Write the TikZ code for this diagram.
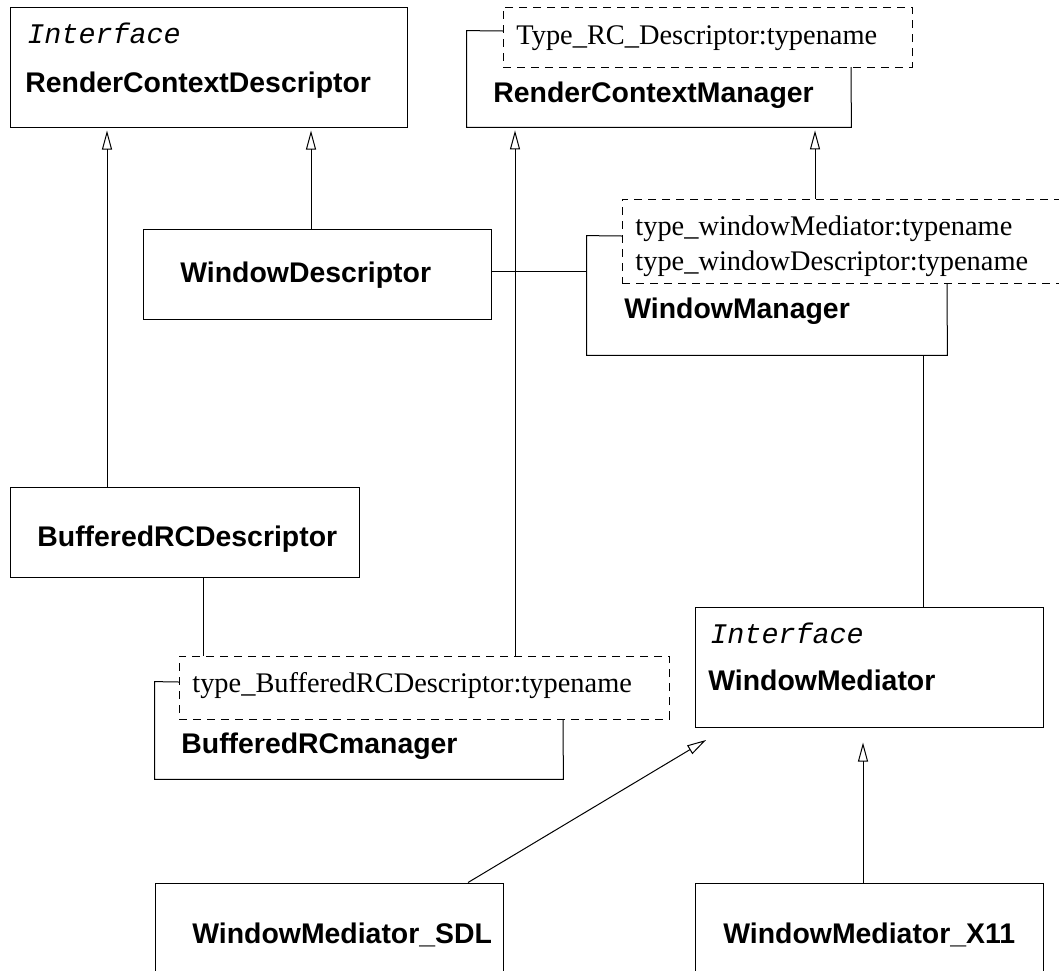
\documentclass[tikz,border=0pt]{standalone}
\usepackage{fontspec}
\setmainfont{Liberation Serif}
\setsansfont{Liberation Sans}
\setmonofont{Liberation Mono}
\usetikzlibrary{arrows.meta,fit}
\begin{document}
\begin{tikzpicture}[x=0.5pt,y=-0.5pt,
  cls/.style={draw,line width=0.5pt,inner sep=0pt},
  tpl/.style={draw,line width=0.5pt,inner sep=0pt,dash pattern=on 4.2pt off 2.8pt},
  area/.style={inner sep=0pt},
  bname/.style={font=\fontsize{14.2}{17}\selectfont\sffamily\bfseries,anchor=base west,inner sep=0pt},
  iname/.style={font=\fontsize{14.2}{17}\selectfont\ttfamily\itshape,anchor=base west,inner sep=0pt},
  tname/.style={font=\fontsize{14.2}{17}\selectfont\rmfamily,anchor=base west,inner sep=0pt},
  inh/.style={draw,line width=0.5pt,-{Triangle[open,length=9.5pt,width=5pt]}},
  assoc/.style={draw,line width=0.5pt}]
\useasboundingbox (0,0) rectangle (1059,970);
\clip (0,0) rectangle (1059,970);

% RenderContextDescriptor
\node[cls,fit={(10,7)(407,127)}] (rcd) {};
\node[iname] (rcdI) at (27,43) {Interface};
\node[bname] (rcdN) at (25,92) {RenderContextDescriptor};

% RenderContextManager
\node[area,fit={(467,31)(851,127)}] (rcm) {};
\draw[cls] (503,31) -- (rcm.north west) -- (rcm.south west) -- (rcm.south east) -- (851,67);
\node[tpl,fit={(503,7)(912,67)}] (rcmT) {};
\node[tname] (rcmP) at (516,44) {Type\_RC\_Descriptor:typename};
\node[bname] (rcmN) at (493,102) {RenderContextManager};

% WindowDescriptor
\node[cls,fit={(143,229)(491,319)}] (wd) {};
\node[bname] (wdN) at (180,282) {WindowDescriptor};

% WindowManager
\node[area,fit={(587,236)(947,355)}] (wm) {};
\draw[cls] (622,236) -- (wm.north west) -- (wm.south west) -- (wm.south east) -- (947,283);
\node[tpl,fit={(622,199)(1080,283)}] (wmT) {};
\node[tname] (wmP1) at (635,235) {type\_windowMediator:typename};
\node[tname] (wmP2) at (635,270) {type\_windowDescriptor:typename};
\node[bname] (wmN) at (624,318) {WindowManager};

% BufferedRCDescriptor
\node[cls,fit={(10,487)(359,577)}] (brd) {};
\node[bname] (brdN) at (37,546) {BufferedRCDescriptor};

% BufferedRCmanager
\node[area,fit={(155,682)(563,779)}] (brm) {};
\draw[cls] (179,682) -- (brm.north west) -- (brm.south west) -- (brm.south east) -- (563,719);
\node[tpl,fit={(179,656)(669,719)}] (brmT) {};
\node[tname] (brmP) at (192,692) {type\_BufferedRCDescriptor:typename};
\node[bname] (brmN) at (181,753) {BufferedRCmanager};

% WindowMediator
\node[cls,fit={(695,607)(1043,727)}] (wmed) {};
\node[iname] (wmedI) at (710,643) {Interface};
\node[bname] (wmedN) at (708,690) {WindowMediator};

% WindowMediator_SDL / X11
\node[cls,fit={(155,883)(503,1000)}] (sdl) {};
\node[bname] (sdlN) at (192,943) {WindowMediator\_SDL};
\node[cls,fit={(695,883)(1043,1000)}] (x11) {};
\node[bname] (x11N) at (723,943) {WindowMediator\_X11};

% helper columns
\coordinate (xa) at (107,0);
\coordinate (xb) at (311,0);
\coordinate (xc) at (515,0);
\coordinate (xd) at (815,0);
\coordinate (xe) at (203,0);
\coordinate (xf) at (923,0);
\coordinate (xg) at (468,0);
\coordinate (xh) at (863,0);
\coordinate (yl) at (0,271);
\coordinate (sdlTip) at (706,740);

% connectors
\draw[inh,shorten >=1.5pt] (xa |- brd.north) -- (xa |- rcd.south);
\draw[inh,shorten >=1.5pt] (xb |- wd.north) -- (xb |- rcd.south);
\draw[inh,shorten >=1.5pt] (xc |- brmT.north) -- (xc |- rcm.south);
\draw[inh,shorten >=1.5pt] (xd |- wmT.north) -- (xd |- rcm.south);
\draw[assoc] (wd.east |- yl) -- (wm.west |- yl);
\draw[assoc] (xe |- brd.south) -- (xe |- brmT.north);
\draw[assoc] (xf |- wm.south) -- (xf |- wmed.north);
\draw[inh] (xg |- sdl.north) -- (sdlTip);
\draw[inh,shorten >=7.5pt] (xh |- x11.north) -- (xh |- wmed.south);
\end{tikzpicture}
\end{document}
